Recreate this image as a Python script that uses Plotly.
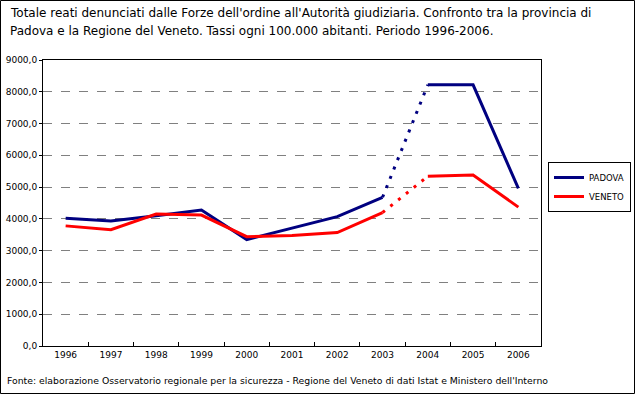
import plotly.graph_objects as go

years = ["1996", "1997", "1998", "1999", "2000", "2001", "2002", "2003", "2004", "2005", "2006"]
padova = [4020, 3930, 4100, 4280, 3350, 3700, 4070, 4680, 8220, 8220, 4960]
veneto = [3780, 3660, 4150, 4120, 3440, 3480, 3570, 4200, 5340, 5380, 4370]
y_ticks = [0, 1000, 2000, 3000, 4000, 5000, 6000, 7000, 8000, 9000]

title_1 = "Totale reati denunciati dalle Forze dell'ordine all'Autorità giudiziaria. Confronto tra la provincia di"
title_2 = "Padova e la Regione del Veneto. Tassi ogni 100.000 abitanti. Periodo 1996-2006."
source = "Fonte: elaborazione Osservatorio regionale per la sicurezza - Regione del Veneto di dati Istat e Ministero dell'Interno"

# segment 2003-2004 is dotted
dot_from, dot_to = 7, 8

def solid_parts(vals):
    a = [v if i <= dot_from else None for i, v in enumerate(vals)]
    b = [v if i >= dot_to else None for i, v in enumerate(vals)]
    return a, b

fig = go.Figure()
series = [("PADOVA", padova, "#000080"), ("VENETO", veneto, "#FF0000")]
for name, vals, col in series:
    a, b = solid_parts(vals)
    fig.add_trace(go.Scatter(x=years, y=a, mode="lines", name=name, legendgroup=name,
                             line=dict(color=col, width=3), connectgaps=False))
    fig.add_trace(go.Scatter(x=years, y=b, mode="lines", name=name, legendgroup=name, showlegend=False,
                             line=dict(color=col, width=3), connectgaps=False))
    fig.add_trace(go.Scatter(x=years[dot_from:dot_to + 1], y=vals[dot_from:dot_to + 1], mode="lines",
                             name=name, legendgroup=name, showlegend=False,
                             line=dict(color=col, width=3, dash="3px,7px")))

L, R, T, B = 43, 94, 60, 48
W, H = 635, 394
pw, ph = W - L - R, H - T - B

def px(x):
    return (x - L) / pw

def py(y):
    return (H - B - y) / ph

fig.update_layout(
    width=W, height=H,
    margin=dict(l=L, r=R, t=T, b=B, pad=0, autoexpand=False),
    paper_bgcolor="white", plot_bgcolor="white",
    separators=",.",
    font=dict(family="DejaVu Sans", color="black", size=9),
    showlegend=True,
    legend=dict(xref="container", yref="container", x=548 / W, y=1 - 162 / H,
                xanchor="left", yanchor="top",
                bordercolor="black", borderwidth=1, bgcolor="white",
                font=dict(size=8.5, family="DejaVu Sans"), tracegroupgap=0,
                itemwidth=30),
    xaxis=dict(type="category", categoryorder="array", categoryarray=years,
               showline=True, linecolor="black", linewidth=1, mirror=True,
               ticks="inside", tickson="boundaries", ticklen=4, tickcolor="black",
               showgrid=False, tickfont=dict(size=9), range=[-0.5, 10.5], automargin=False),
    yaxis=dict(range=[0, 9000], tickvals=y_ticks, tickformat=".1f",
               showline=True, linecolor="black", linewidth=1, mirror=True,
               ticks="outside", ticklen=3, tickcolor="black",
               showgrid=True, gridcolor="#808080", griddash="dash", gridwidth=1,
               zeroline=False, tickfont=dict(size=9), automargin=False),
    annotations=[
        dict(text=title_1, xref="paper", yref="paper", x=px(8), y=py(13), xanchor="left",
             yanchor="middle", showarrow=False, font=dict(size=12, family="DejaVu Sans")),
        dict(text=title_2, xref="paper", yref="paper", x=px(8), y=py(31), xanchor="left",
             yanchor="middle", showarrow=False, font=dict(size=12, family="DejaVu Sans")),
        dict(text=source, xref="paper", yref="paper", x=px(5), y=py(380), xanchor="left",
             yanchor="middle", showarrow=False, font=dict(size=9.3, family="DejaVu Sans")),
    ],
    shapes=[
        dict(type="rect", xref="paper", yref="paper", x0=px(0.5), x1=px(634.5),
             y0=py(393.5), y1=py(0.5), line=dict(color="black", width=1)),
    ],
)

fig.write_html("out.html", config={"displayModeBar": False},
               post_script="document.body.style.margin='0px';document.body.style.overflow='hidden';")
